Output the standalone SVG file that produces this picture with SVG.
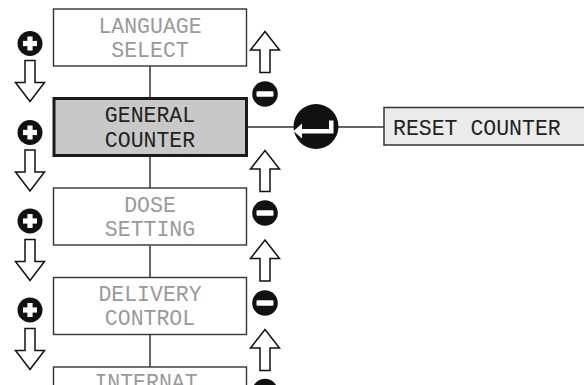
<svg xmlns="http://www.w3.org/2000/svg" width="584" height="385" viewBox="0 0 584 385">
<defs>
<style>
.box{fill:#fff;stroke:#333;stroke-width:1.4}
.active{fill:#c8c8c8;stroke:#1a1a1a;stroke-width:3}
.reset{fill:#ebebeb;stroke:#333;stroke-width:1.5}
.t{font-family:"Liberation Mono","DejaVu Sans Mono",monospace;font-size:21.5px;text-anchor:middle;fill:#9a9a9a}
.ta{fill:#222}
.conn{stroke:#333;stroke-width:1.5;fill:none}
.arr{fill:#fff;stroke:#111;stroke-width:1.5;stroke-linejoin:miter}
.dot{fill:#111}
.w{fill:#fff}
</style>
<g id="plus">
<circle class="dot" r="12.5"/>
<rect class="w" x="-7" y="-2.6" width="14" height="5.2"/>
<rect class="w" x="-2.6" y="-7" width="5.2" height="14"/>
</g>
<g id="minus">
<circle class="dot" r="12.8"/>
<rect class="w" x="-8.5" y="-2.8" width="17" height="5.6" rx="1.2"/>
</g>
<path id="down" class="arr" d="M-5,0 L5,0 L5,22 L14.5,22 L0,41 L-14.5,22 L-5,22 Z"/>
<path id="up" class="arr" d="M-5,41 L5,41 L5,18.5 L14.5,18.5 L0,0 L-14.5,18.5 L-5,18.5 Z"/>
</defs>

<g id="connectors">
<line class="conn" x1="150" y1="66" x2="150" y2="97"/>
<line class="conn" x1="150" y1="157" x2="150" y2="188"/>
<line class="conn" x1="150" y1="245.5" x2="150" y2="277.5"/>
<line class="conn" x1="150" y1="334.5" x2="150" y2="367"/>
<line class="conn" x1="248" y1="127" x2="384" y2="127"/>
</g>

<g id="language-select">
<rect class="box" x="53.5" y="9" width="193" height="57"/>
<text class="t" x="150" y="32.5">LANGUAGE</text>
<text class="t" x="150" y="57">SELECT</text>
</g>

<g id="general-counter">
<rect class="active" x="54" y="98.5" width="192.5" height="57"/>
<text class="t ta" x="150" y="122">GENERAL</text>
<text class="t ta" x="150" y="146.5">COUNTER</text>
</g>

<g id="dose-setting">
<rect class="box" x="53.5" y="188" width="193" height="57"/>
<text class="t" x="150" y="212">DOSE</text>
<text class="t" x="150" y="236">SETTING</text>
</g>

<g id="delivery-control">
<rect class="box" x="53.5" y="277.5" width="193" height="57"/>
<text class="t" x="150" y="300.5">DELIVERY</text>
<text class="t" x="150" y="325">CONTROL</text>
</g>

<g id="internat">
<rect class="box" x="53.5" y="367" width="193" height="57"/>
<text class="t" x="146" y="389">INTERNAT</text>
</g>

<g id="enter">
<circle class="dot" cx="316" cy="126.5" r="22.5"/>
<path class="w" d="M293.5,131 L302,123.5 L302,129 L329,129 L329,120.5 L333.5,120.5 L333.5,133.5 L302,133.5 L302,138.5 Z"/>
</g>

<g id="reset-counter">
<rect class="reset" x="384" y="107.5" width="205" height="37.5"/>
<text class="t ta" x="393" y="135" style="text-anchor:start">RESET COUNTER</text>
</g>

<g id="plus-icons">
<use href="#plus" x="30" y="43.5"/>
<use href="#plus" x="30" y="132.5"/>
<use href="#plus" x="30" y="221"/>
<use href="#plus" x="30" y="310"/>
</g>
<g id="down-arrows">
<use href="#down" x="30" y="60.5"/>
<use href="#down" x="30" y="150"/>
<use href="#down" x="30" y="239.5"/>
<use href="#down" x="30" y="328.5"/>
</g>
<g id="up-arrows">
<use href="#up" x="265" y="31.5"/>
<use href="#up" x="265" y="150.5"/>
<use href="#up" x="265" y="240"/>
<use href="#up" x="265" y="329.5"/>
</g>
<g id="minus-icons">
<use href="#minus" x="265" y="94"/>
<use href="#minus" x="265" y="213"/>
<use href="#minus" x="265" y="303"/>
<use href="#minus" x="265" y="391.5"/>
</g>
</svg>
